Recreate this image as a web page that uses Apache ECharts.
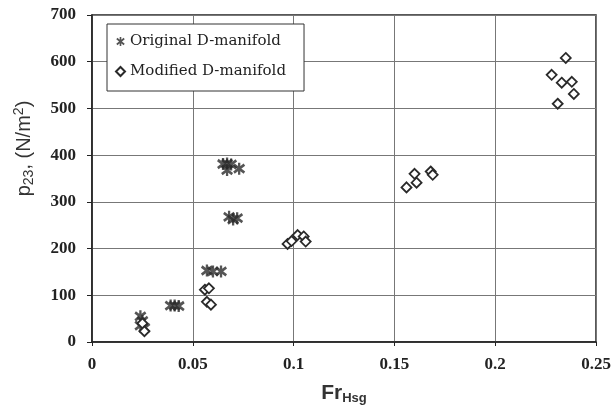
<!DOCTYPE html>
<html>
<head>
<meta charset="utf-8">
<script src="https://cdn.jsdelivr.net/npm/echarts@6/dist/echarts.min.js"></script>
<style>
  html, body { margin: 0; padding: 0; background: #fff; }
  #chart { width: 616px; height: 410px; }
</style>
</head>
<body>
<div id="chart"></div>
<script>
// Original D-manifold (asterisks), [Fr_Hsg, p23]
const originalPts = [
  [0.024, 55], [0.025, 45], [0.024, 35], [0.026, 30],
  [0.039, 78], [0.041, 78], [0.043, 77],
  [0.057, 153], [0.060, 151], [0.064, 151],
  [0.068, 268], [0.070, 262], [0.072, 265],
  [0.065, 381], [0.067, 382], [0.069, 380], [0.067, 368], [0.073, 371]
]
// Modified D-manifold (diamonds)
const modifiedPts = [
  [0.025, 40], [0.026, 23],
  [0.056, 112], [0.058, 115], [0.057, 86], [0.059, 80],
  [0.097, 210], [0.099, 216], [0.102, 229], [0.105, 226], [0.106, 215],
  [0.156, 331], [0.160, 360], [0.161, 341], [0.168, 365], [0.169, 358],
  [0.235, 608], [0.228, 572], [0.233, 555], [0.238, 557], [0.239, 531], [0.231, 510]
]
const xTicks = [0, 0.05, 0.1, 0.15, 0.2, 0.25]
const yTicks = [0, 100, 200, 300, 400, 500, 600, 700]

// filled asterisk: vertical bar plus two diagonals
const starPath = 'path://M4.1,0L5.9,0L5.9,10L4.1,10Z' +
  'M0.3,2.6L1.5,0.7L9.7,7.4L8.5,9.3Z' +
  'M8.5,0.7L9.7,2.6L1.5,9.3L0.3,7.4Z'

const chart = echarts.init(document.getElementById('chart'))
const tickFont = {
  fontFamily: 'Liberation Serif',
  fontWeight: 'bold',
  fontSize: 17,
  color: '#222'
}

chart.setOption({
  animation: false,
  backgroundColor: '#fff',
  grid: {
    left: 92,
    right: 20,
    top: 15,
    bottom: 67,
    show: true,
    borderColor: '#222',
    borderWidth: 1.5
  },
  legend: {
    left: 107,
    top: 24,
    orient: 'vertical',
    backgroundColor: '#fff',
    borderColor: '#333',
    borderWidth: 1,
    padding: [10, 18, 12, 8],
    itemGap: 15,
    itemWidth: 9,
    itemHeight: 9,
    textStyle: {
      fontFamily: 'DejaVu Serif',
      fontSize: 15,
      color: '#222'
    },
    data: ['Original D-manifold', 'Modified D-manifold']
  },
  xAxis: {
    type: 'value',
    min: xTicks[0],
    max: xTicks[xTicks.length - 1],
    interval: 0.05,
    name: '{a|Fr}{b|Hsg}',
    nameLocation: 'middle',
    nameGap: 40,
    nameTextStyle: {
      rich: {
        a: { fontFamily: 'Liberation Sans', fontWeight: 'bold', fontSize: 21, color: '#333' },
        b: { fontFamily: 'Liberation Sans', fontWeight: 'bold', fontSize: 13, color: '#333', padding: [10, 0, 0, 0] }
      }
    },
    axisLine: { lineStyle: { color: '#222', width: 1.5 } },
    axisTick: { show: true, length: 4, lineStyle: { color: '#222' } },
    axisLabel: Object.assign({ margin: 14, formatter: v => String(+v.toFixed(2)) }, tickFont),
    splitLine: { show: true, lineStyle: { color: '#777', width: 1 } }
  },
  yAxis: {
    type: 'value',
    min: yTicks[0],
    max: yTicks[yTicks.length - 1],
    interval: 100,
    name: '{a|p}{s|23}{a|, (N/m}{u|2}{a|)}',
    nameLocation: 'middle',
    nameGap: 56,
    nameTextStyle: {
      padding: [0, 0, 0, 60],
      rich: {
        a: { fontFamily: 'Liberation Sans', fontSize: 20, color: '#333' },
        s: { fontFamily: 'Liberation Sans', fontSize: 14, color: '#333', padding: [10, 0, 0, 0] },
        u: { fontFamily: 'Liberation Sans', fontSize: 14, color: '#333', padding: [0, 0, 10, 0] }
      }
    },
    axisLine: { show: true, lineStyle: { color: '#222', width: 1.5 } },
    axisTick: { show: true, length: 5, lineStyle: { color: '#222' } },
    axisLabel: Object.assign({ margin: 16 }, tickFont),
    splitLine: { show: true, lineStyle: { color: '#777', width: 1 } }
  },
  series: [
    {
      name: 'Original D-manifold',
      type: 'scatter',
      symbol: starPath,
      symbolSize: 12,
      itemStyle: { color: '#2a2a2a' },
      data: originalPts
    },
    {
      name: 'Modified D-manifold',
      type: 'scatter',
      symbol: 'diamond',
      symbolSize: 10,
      itemStyle: { color: '#fff', borderColor: '#2a2a2a', borderWidth: 1.8, opacity: 1 },
      data: modifiedPts
    }
  ]
})
</script>
</body>
</html>
